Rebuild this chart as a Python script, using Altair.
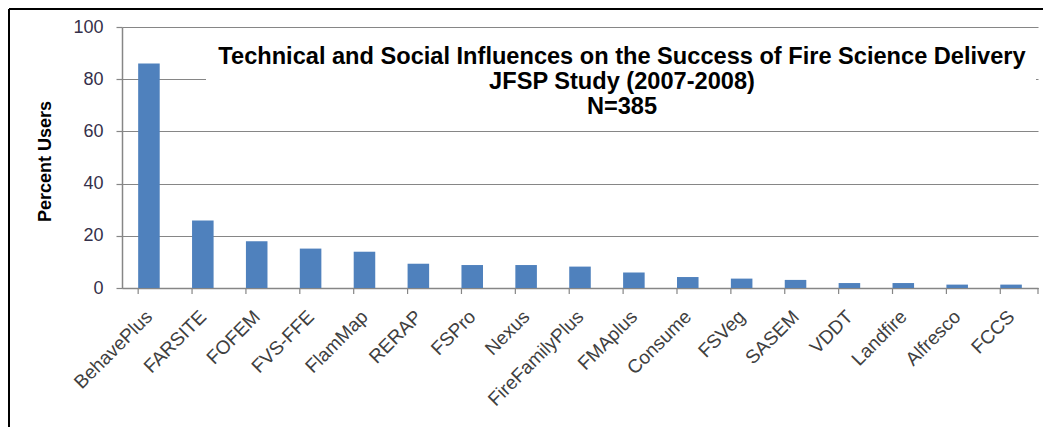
import altair as alt
import pandas as pd

tools = ["BehavePlus", "FARSITE", "FOFEM", "FVS-FFE", "FlamMap", "RERAP", "FSPro",
         "Nexus", "FireFamilyPlus", "FMAplus", "Consume", "FSVeg", "SASEM", "VDDT",
         "Landfire", "Alfresco", "FCCS"]
percent = [86.0, 25.9, 17.9, 15.1, 13.9, 9.3, 8.8, 8.8, 8.2, 5.9, 4.2, 3.6, 3.1,
           1.9, 1.9, 1.3, 1.3]
title_lines = ["Technical and Social Influences on the Success of Fire Science Delivery",
               "JFSP Study (2007-2008)",
               "N=385"]
y_ticks = [0, 20, 40, 60, 80, 100]
y_title = "Percent Users"

FONT = "Liberation Sans"
GRAY = "#868686"
W, H = 916, 261

df = pd.DataFrame({"tool": tools, "percent": percent})
title_df = pd.DataFrame({"t": ["\n".join(title_lines)]})
one = pd.DataFrame({"a": [0]})

xscale = alt.Scale(paddingInner=0.6, paddingOuter=0.3)
xaxis = alt.Axis(title=None, ticks=False, labelAngle=-45, labelAlign="right",
                 labelBaseline="top", labelPadding=19, labelFont=FONT,
                 labelFontSize=19, labelColor="#404040", domainColor=GRAY,
                 domainWidth=1.5, labelOffset=-6)

bars = alt.Chart(df).mark_bar(color="#4F81BD").encode(
    x=alt.X("tool:N", sort=tools, scale=xscale, axis=xaxis),
    y=alt.Y("percent:Q", scale=alt.Scale(domain=[0, 100], nice=False),
            axis=alt.Axis(title=y_title, values=y_ticks, grid=True, gridColor=GRAY,
                          gridWidth=1.2, domainColor=GRAY, domainWidth=1.5,
                          tickColor=GRAY, tickSize=6, tickWidth=1.2, labelPadding=13,
                          labelFont=FONT, labelFontSize=18, labelColor="#35304a",
                          titleFont=FONT, titleFontSize=18, titleFontWeight="bold",
                          titleColor="#000000", titleAngle=-90, titleX=-77,
                          titleY=134, titleAlign="center", titleBaseline="middle")),
)

ticks = alt.Chart(df).mark_rule(color=GRAY, strokeWidth=1.2).encode(
    x=alt.X("tool:N", sort=tools, scale=xscale, bandPosition=0, axis=xaxis),
    y=alt.value(H),
    y2=alt.value(H + 6),
)
end_tick = alt.Chart(one).mark_rule(color=GRAY, strokeWidth=1.2).encode(
    x=alt.value(W), y=alt.value(H), y2=alt.value(H + 6)
)

box = alt.Chart(one).mark_rect(color="white").encode(
    x=alt.value(84), x2=alt.value(914), y=alt.value(11), y2=alt.value(93)
)

title = alt.Chart(title_df).mark_text(
    font=FONT, fontSize=23.6, fontWeight="bold", color="black", lineBreak="\n",
    lineHeight=25, align="center", baseline="middle"
).encode(text="t:N", x=alt.value(500), y=alt.value(30))

frame_top = alt.Chart(one).mark_rule(color="black", strokeWidth=2).encode(
    x=alt.value(-113), x2=alt.value(W + 20), y=alt.value(-18)
)
frame_left = alt.Chart(one).mark_rule(color="black", strokeWidth=2).encode(
    x=alt.value(-113), y=alt.value(-18), y2=alt.value(H + 160)
)

chart = alt.layer(bars, ticks, end_tick, box, title, frame_top, frame_left).properties(
    width=W, height=H,
    autosize=alt.AutoSizeParams(type="none"),
    padding={"left": 114, "top": 19, "right": 5, "bottom": 139},
    background="white",
).configure_view(stroke=None)

chart.save("out.html", embed_options={"renderer": "svg", "actions": False})
